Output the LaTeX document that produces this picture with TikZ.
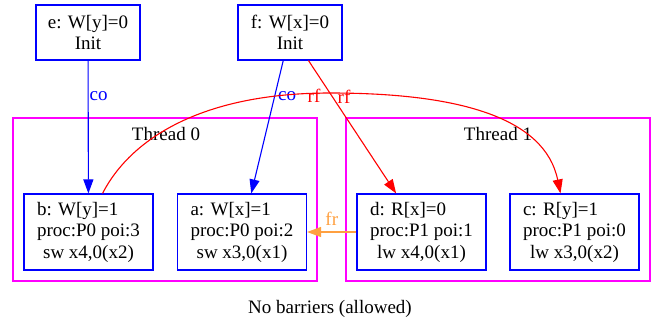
\documentclass[tikz,border=0pt]{standalone}
\usepackage{fontspec}
\setmainfont{Liberation Serif}
\usetikzlibrary{arrows.meta}
\definecolor{frorange}{RGB}{255,160,64}
\definecolor{gvmagenta}{RGB}{255,0,255}
\definecolor{gvblue}{RGB}{0,0,255}
\definecolor{gvred}{RGB}{255,0,0}
\begin{document}
\begin{tikzpicture}[x=1pt,y=-1pt,
  every node/.style={font=\fontsize{19}{21.5}\selectfont},
  evbox/.style={draw=gvblue, line width=1.1pt, align=center, inner sep=0pt,
    minimum width=129pt, minimum height=76pt},
  initbox/.style={evbox, minimum width=104pt, minimum height=55pt},
  clusterbox/.style={draw=gvmagenta, line width=1.1pt, inner sep=0pt,
    minimum width=304pt, minimum height=163pt},
  edgebase/.style={line width=1.1pt, -{Triangle[length=14pt,width=10pt]}},
  coedge/.style={edgebase, gvblue},
  rfedge/.style={edgebase, gvred},
  fredge/.style={edgebase, frorange},
  lbl/.style={inner sep=1pt}
]
\useasboundingbox (0,0) rectangle (657,324);
% clusters
\node[clusterbox] (t0) at (165,199.5) {};
\node[clusterbox] (t1) at (498,199.5) {};
\node (t0l) at (166,134) {Thread 0};
\node (t1l) at (498,134) {Thread 1};
% init nodes
\node[initbox] (e) at (88,32.5) {e: W[y]=0\\Init};
\node[initbox] (f) at (290,32.5) {f: W[x]=0\\Init};
% events
\node[evbox] (b) at (88.5,232) {\rlap{b: W[y]=1}\phantom{proc:P0 poi:3}\\proc:P0 poi:3\\sw x4,0(x2)};
\node[evbox] (a) at (242,232) {\rlap{a: W[x]=1}\phantom{proc:P0 poi:2}\\proc:P0 poi:2\\sw x3,0(x1)};
\node[evbox] (d) at (421.5,232) {\rlap{d: R[x]=0}\phantom{proc:P1 poi:1}\\proc:P1 poi:1\\lw x4,0(x1)};
\node[evbox] (c) at (574.5,232) {\rlap{c: R[y]=1}\phantom{proc:P1 poi:0}\\proc:P1 poi:0\\lw x3,0(x2)};
% edges
\draw[coedge] (e) -- node[lbl, pos=0.27, anchor=west, text=gvblue] {co} (b);
\draw[coedge] (f) -- node[lbl, pos=0.27, anchor=west, xshift=2pt, text=gvblue] {co} (a);
\draw[rfedge] (f) -- node[lbl, pos=0.27, anchor=west, xshift=4pt, text=gvred] {rf} (d);
\draw[rfedge] ([xshift=14pt]b.north) .. controls (130,140) and (200,93) .. (330,93)
  .. controls (460,93) and (545,118) .. ([xshift=-14pt]c.north);
\node[lbl, text=gvred] (rf2) at (314,96) {rf};
\draw[fredge] (d) -- node[lbl, midway, above, yshift=5pt, text=frorange] {fr} (a);
% caption
\node (cap) at (330,309) {No barriers (allowed)};
\end{tikzpicture}
\end{document}
